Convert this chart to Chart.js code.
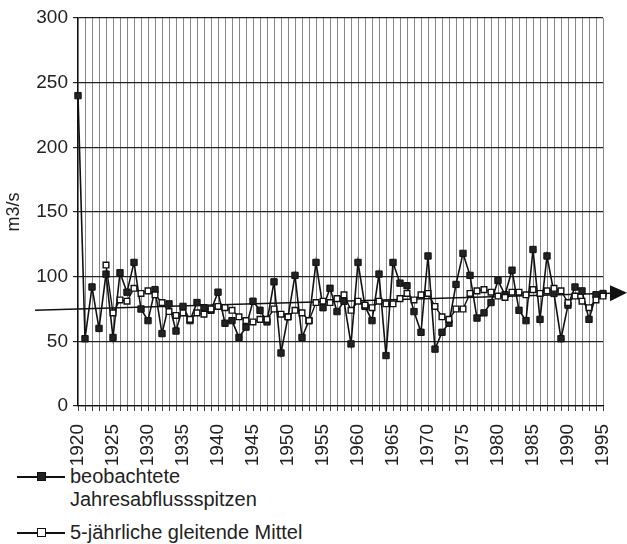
<!DOCTYPE html>
<html>
<head>
<meta charset="utf-8">
<script src="https://cdn.jsdelivr.net/npm/chart.js@4.4.1/dist/chart.umd.min.js"></script>
<style>
  body { margin: 0; background: #fff; font-family: 'Liberation Sans', Arial, sans-serif; }
  #wrap { position: relative; width: 627px; height: 544px; }
  #chart { position: absolute; left: 0; top: 0; }
  .legend { position: absolute; left: 17px; color: #222; font-size: 20px; line-height: 23px; }
  .legend .row { display: flex; align-items: flex-start; }
  .legend .sym { position: relative; width: 48px; height: 23px; margin-right: 5px; flex: none; }
  .legend .sym .ln { position: absolute; left: 0; right: 0; top: 11px; height: 2px; background: #111; }
  .legend .sym .sq { position: absolute; left: 20px; top: 7px; width: 7px; height: 7px; border: 1.5px solid #111; box-sizing: content-box; }
</style>
</head>
<body>
<div id="wrap">
  <canvas id="chart" width="627" height="465"></canvas>
  <div class="legend" id="legend" style="top:465px"></div>
</div>
<script>
// years on the category axis
const years = [];
for (let y = 1920; y <= 1995; y++) years.push(String(y));

const observed = [
  240, 52, 92, 60, 102, 53, 103, 88, 111, 75,
  66, 90, 56, 79, 58, 77, 66, 80, 76, 74,
  88, 64, 66, 53, 61, 81, 74, 65, 96, 41,
  69, 101, 53, 66, 111, 76, 91, 73, 81, 48,
  111, 77, 66, 102, 39, 111, 95, 93, 73, 57,
  116, 44, 57, 64, 94, 118, 101, 68, 72, 80,
  97, 86, 105, 74, 66, 121, 67, 116, 87, 52,
  78, 92, 89, 67, 86, 87
];

// 5-year moving average (starts 1924)
const movingAvg = [
  null, null, null, null, 109, 72, 82, 81, 91, 87,
  89, 86, 80, 73, 70, 72, 67, 72, 71, 75,
  77, 76, 74, 69, 66, 65, 67, 67, 75, 71,
  69, 74, 72, 66, 80, 81, 80, 83, 86, 74,
  81, 78, 76, 81, 79, 79, 83, 87, 82, 86,
  87, 77, 69, 67, 75, 75, 87, 89, 90, 88,
  85, 84, 88, 88, 86, 90, 87, 89, 91, 89,
  80, 85, 81, 76, 82, 85
];

// trend line values at 1920 and 1995
const trendStart = 75;
const trendEnd = 87;

const seriesLabels = [
  ['beobachtete', 'Jahresabflussspitzen'],
  ['5-jährliche gleitende Mittel']
];

const fontFamily = "'Liberation Sans', Arial, sans-serif";

// draws the straight trend line with its arrow head
const trendArrow = {
  id: 'trendArrow',
  beforeDatasetsDraw(chart) {
    const xs = chart.scales.x, ys = chart.scales.y;
    const x0 = xs.getPixelForValue(0), x1 = xs.getPixelForValue(years.length - 1);
    const y0 = ys.getPixelForValue(trendStart), y1 = ys.getPixelForValue(trendEnd);
    const k = (y1 - y0) / (x1 - x0);
    const left = 35, right = chart.width - 17, tip = chart.width;
    const ctx = chart.ctx;
    ctx.save();
    ctx.strokeStyle = '#111';
    ctx.lineWidth = 1.6;
    ctx.beginPath();
    ctx.moveTo(left, y0 + k * (left - x0));
    ctx.lineTo(right, y0 + k * (right - x0));
    ctx.stroke();
    const yr = y0 + k * (right - x0), yt = y0 + k * (tip - x0);
    ctx.fillStyle = '#111';
    ctx.beginPath();
    ctx.moveTo(right, yr - 8);
    ctx.lineTo(tip, yt);
    ctx.lineTo(right, yr + 8);
    ctx.closePath();
    ctx.fill();
    ctx.restore();
  }
};

new Chart(document.getElementById('chart'), {
  type: 'line',
  data: {
    labels: years,
    datasets: [
      {
        label: seriesLabels[0].join(' '),
        data: observed,
        borderColor: '#111',
        backgroundColor: '#111',
        borderWidth: 1.6,
        pointStyle: 'rect',
        pointRadius: 4.5,
        pointBorderWidth: 1,
        pointBackgroundColor: '#222',
        pointBorderColor: '#111',
        order: 2
      },
      {
        label: seriesLabels[1].join(' '),
        data: movingAvg,
        borderColor: '#111',
        backgroundColor: '#fff',
        borderWidth: 1.4,
        pointStyle: 'rect',
        pointRadius: 4,
        pointBorderWidth: 1.4,
        pointBackgroundColor: '#fff',
        pointBorderColor: '#111',
        order: 1
      }
    ]
  },
  options: {
    responsive: false,
    animation: false,
    layout: { padding: { top: 18, right: 24, left: 3, bottom: 0 } },
    plugins: {
      legend: { display: false },
      tooltip: { enabled: false }
    },
    scales: {
      x: {
        offset: false,
        grid: { color: '#888', lineWidth: 1, tickLength: 5, tickColor: '#444' },
        border: { color: '#111', width: 1.2 },
        ticks: {
          autoSkip: false,
          maxRotation: 90,
          minRotation: 90,
          color: '#222',
          font: { family: fontFamily, size: 19 },
          padding: 13,
          callback: function (v, i) { return i % 5 === 0 ? years[i] : ''; }
        },
        afterFit: function (s) { s.height = 59; s.paddingLeft = 0; s.paddingRight = 0; }
      },
      y: {
        min: 0,
        max: 300,
        grid: { color: '#222', lineWidth: 1.2, tickLength: 5 },
        border: { color: '#111', width: 1.2 },
        ticks: { stepSize: 50, color: '#222', font: { family: fontFamily, size: 19 }, padding: 5 },
        title: { display: true, text: 'm3/s', color: '#222', font: { family: fontFamily, size: 18 }, padding: 0 },
        afterFit: function (s) { s.width = 75; s.paddingTop = 0; s.paddingBottom = 0; }
      }
    }
  },
  plugins: [trendArrow]
});

// legend below the chart
const legend = document.getElementById('legend');
seriesLabels.forEach(function (lines, i) {
  const row = document.createElement('div');
  row.className = 'row';
  const sym = document.createElement('div');
  sym.className = 'sym';
  sym.innerHTML = '<div class="ln"></div><div class="sq" style="background:' + (i === 0 ? '#222' : '#fff') + '"></div>';
  const txt = document.createElement('div');
  txt.innerHTML = lines.join('<br>');
  row.appendChild(sym);
  row.appendChild(txt);
  if (i === 1) row.style.marginTop = '10px';
  legend.appendChild(row);
});
</script>
</body>
</html>
